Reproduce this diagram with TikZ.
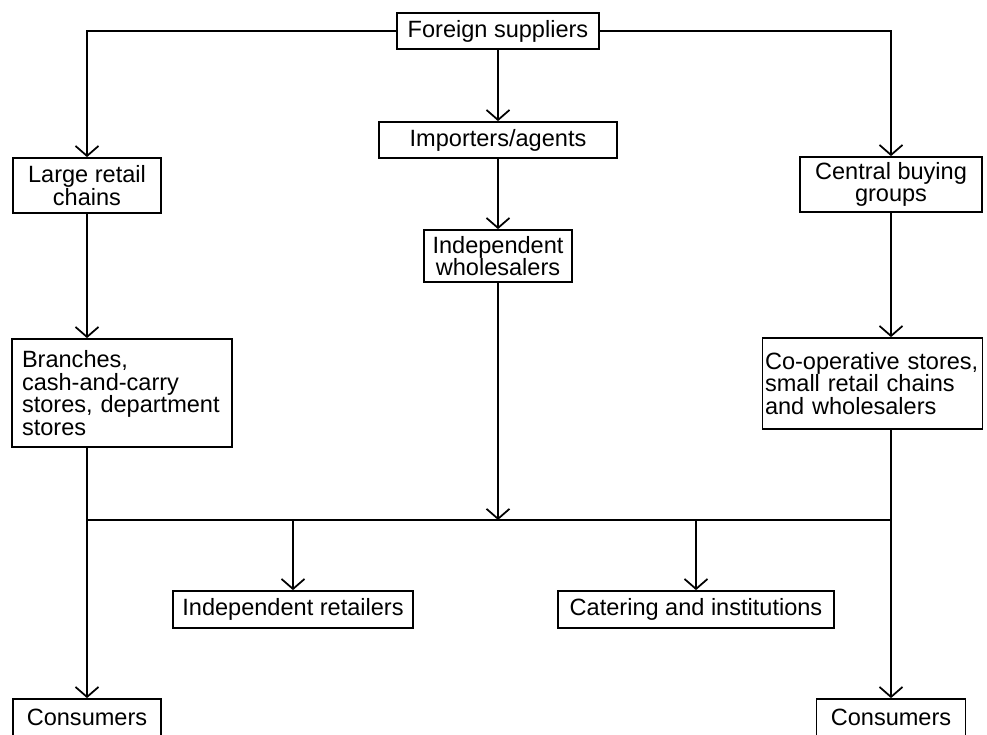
\documentclass[tikz,border=0pt]{standalone}
\usepackage{fontspec}
\setmainfont{Liberation Sans}
\usetikzlibrary{arrows.meta}

\begin{document}
\begin{tikzpicture}[x=0.02cm,y=-0.02cm,
  box/.style={draw,line width=1pt,inner sep=0pt,align=center,
    font=\fontsize{13.4}{12.8}\selectfont},
  flow/.style={line width=1pt,-{Straight Barb[length=2mm,width=4.6mm,line width=1pt]}}]
\useasboundingbox (0,0) rectangle (987,734);
\clip (0,0) rectangle (987,734);

% top row
\node[box,minimum width=4.04cm,minimum height=0.72cm] (fs) at (498,31) {Foreign suppliers};
\node[box,minimum width=4.76cm,minimum height=0.72cm] (imp) at (498,140) {Importers/agents};
\node[box,minimum width=2.96cm,minimum height=1.1cm] (lrc) at (87,185.5) {Large retail\\chains};
\node[box,minimum width=3.64cm,minimum height=1.1cm] (cbg) at (891,184.5) {Central buying\\groups};
\node[box,minimum width=2.96cm,minimum height=1.04cm] (iw) at (498,256) {Independent\\wholesalers};

% second level
\node[box,align=left,text width=4cm,inner xsep=0.2cm,minimum height=2.16cm] (br) at (122,393)
  {Branches,\\cash-and-carry\\stores, department\\stores};
\node[box,align=left,text width=4.3cm,inner xsep=0.05cm,minimum height=1.82cm] (coop) at (872.5,383.5)
  {Co-operative stores,\\small retail chains\\and wholesalers};

% bottom
\node[box,minimum width=4.8cm,minimum height=0.74cm] (ir) at (293,609.5) {Independent retailers};
\node[box,minimum width=5.52cm,minimum height=0.74cm] (cat) at (696,609.5) {Catering and institutions};
\node[box,minimum width=2.96cm,minimum height=0.74cm] (con1) at (87,717.5) {Consumers};
\node[box,minimum width=2.98cm,minimum height=0.74cm] (con2) at (891,717.5) {Consumers};

\coordinate (busL) at (87,520);
\coordinate (busR) at (891,520);

\draw[flow] (fs) -| (lrc);
\draw[flow] (fs) -| (cbg);
\draw[flow] (fs) -- (imp);
\draw[flow] (imp) -- (iw);
\draw[flow] (lrc.south) -- (lrc.south |- br.north);
\draw[flow] (cbg.south) -- (cbg.south |- coop.north);
\draw[line width=1pt] (lrc.south |- br.south) -- (busL) -- (busR) -- (cbg.south |- coop.south);
\draw[flow] (iw.south) -- (iw.south |- busL);
\draw[flow] (ir.north |- busL) -- (ir.north);
\draw[flow] (cat.north |- busL) -- (cat.north);
\draw[flow] (busL) -- (con1.north);
\draw[flow] (busR) -- (con2.north);
\end{tikzpicture}
\end{document}
